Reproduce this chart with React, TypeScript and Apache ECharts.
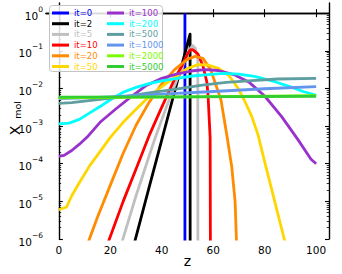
import React, { useEffect, useRef } from 'react';
import * as echarts from 'echarts';

const seriesNames = ['it=0', 'it=2', 'it=5', 'it=10', 'it=20', 'it=50', 'it=100', 'it=200', 'it=500', 'it=1000', 'it=2000', 'it=5000'];
const seriesColors = ['#0000ff', '#000000', '#c0c0c0', '#ff0000', '#ff8c00', '#ffd700', '#9932cc', '#00ffff', '#5f9ea0', '#6495ed', '#7cfc00', '#32cd32'];

// z positions and mole fractions for each iteration
const zIt0 = [49, 49];
const xIt0 = [1e-9, 1.0];

const zIt2 = [28, 35, 40, 45, 49, 50, 51, 51.05];
const xIt2 = [3.5e-7, 2.24e-5, 4.3e-4, 8.3e-3, 8.5e-2, 0.155, 0.278, 1e-9];

const zIt5 = [24, 30, 37, 42, 46, 49, 51, 52, 53, 54, 54.05];
const xIt5 = [6.3e-7, 1.41e-5, 4.0e-4, 3.5e-3, 1.78e-2, 5.6e-2, 0.112, 0.138, 0.117, 6.3e-2, 1e-9];

const zIt10 = [18, 20, 25, 30, 35, 40, 45, 48, 50, 51, 52, 54, 56, 57.5, 58, 58.8, 59];
const xIt10 = [5.0e-7, 1.17e-6, 1.0e-5, 7.2e-5, 5.4e-4, 3.2e-3, 1.78e-2, 4.2e-2, 8.3e-2, 0.105, 0.107, 8.3e-2, 4.0e-2, 1.51e-2, 6.3e-3, 5.0e-4, 1e-9];

const zIt20 = [10, 15, 20, 25, 30, 35, 40, 45, 50, 53, 56, 59, 61.5, 63, 65.4, 67.2, 68.5, 69, 69.05];
const xIt20 = [4.5e-7, 3.8e-6, 2.7e-5, 1.9e-4, 1.05e-3, 4.2e-3, 1.32e-2, 3.16e-2, 6.0e-2, 7.1e-2, 6.3e-2, 3.16e-2, 1.0e-2, 5.0e-3, 5.1e-4, 8.3e-5, 1.0e-5, 1.0e-6, 1e-9];

const zIt50 = [0, 3, 5, 8, 12, 16.5, 20, 25, 30, 35, 40, 46, 50, 54, 58, 62, 66, 69.5, 72, 75, 77.5, 80, 82.5, 85, 87.6, 89];
const xIt50 = [6.0e-6, 7.1e-6, 1.41e-5, 3.16e-5, 8.9e-5, 2.34e-4, 5.0e-4, 1.26e-3, 2.8e-3, 6.0e-3, 1.12e-2, 2.24e-2, 3.4e-2, 4.3e-2, 4.2e-2, 3.4e-2, 2.24e-2, 1.05e-2, 5.0e-3, 1.78e-3, 5.6e-4, 1.12e-4, 2.4e-5, 5.0e-6, 1.0e-6, 4.0e-7];

const zIt100 = [0, 2, 5, 8, 11, 16, 22, 28, 34, 40, 46, 52, 57, 62, 68, 74, 80, 86.6, 93, 98, 100];
const xIt100 = [1.58e-4, 1.66e-4, 2.24e-4, 3.3e-4, 5.1e-4, 1.26e-3, 2.8e-3, 6.0e-3, 1.2e-2, 1.86e-2, 2.45e-2, 2.95e-2, 3.16e-2, 3.0e-2, 2.34e-2, 1.45e-2, 6.3e-3, 1.78e-3, 4.3e-4, 1.32e-4, 1.0e-4];

const zIt200 = [0, 4, 8, 12, 16, 20, 25, 30, 35, 40, 46, 52, 58, 64, 70, 76, 84, 90, 95, 100];
const xIt200 = [1.15e-3, 1.2e-3, 1.51e-3, 2.24e-3, 3.3e-3, 5.0e-3, 7.9e-3, 1.07e-2, 1.35e-2, 1.58e-2, 1.86e-2, 2.14e-2, 2.34e-2, 2.5e-2, 2.4e-2, 2.1e-2, 1.51e-2, 1.1e-2, 8.3e-3, 6.6e-3];

const zIt500 = [0, 5, 10, 16, 25, 35, 45, 55, 65, 75, 85, 100];
const xIt500 = [4.0e-3, 4.2e-3, 4.6e-3, 5.1e-3, 6.0e-3, 7.6e-3, 9.5e-3, 1.2e-2, 1.45e-2, 1.62e-2, 1.78e-2, 1.86e-2];

const zIt1000 = [0, 10, 20, 40, 60, 80, 100];
const xIt1000 = [5.4e-3, 5.6e-3, 6.0e-3, 7.1e-3, 8.3e-3, 9.8e-3, 1.12e-2];

const zIt2000 = [0, 50, 100];
const xIt2000 = [5.6e-3, 6.0e-3, 6.45e-3];

const zIt5000 = [0, 50, 100];
const xIt5000 = [5.9e-3, 6.0e-3, 6.2e-3];

const zValues = [zIt0, zIt2, zIt5, zIt10, zIt20, zIt50, zIt100, zIt200, zIt500, zIt1000, zIt2000, zIt5000];
const xValues = [xIt0, xIt2, xIt5, xIt10, xIt20, xIt50, xIt100, xIt200, xIt500, xIt1000, xIt2000, xIt5000];

const xTicks = [0, 20, 40, 60, 80, 100];
const yDecades = [-6, -5, -4, -3, -2, -1, 0];

const FONT = 'DejaVu Sans';

export default function App() {
  const ref = useRef<HTMLDivElement>(null);

  useEffect(() => {
    if (!ref.current) return;
    const chart = echarts.init(ref.current, undefined, { renderer: 'svg' });

    const yMin = -6;
    const yMax = 0.27;
    const minorY: number[] = [];
    for (let d = -6; d <= 0; d++) {
      for (let k = 2; k <= 9; k++) {
        const v = d + Math.log10(k);
        if (v < yMax) minorY.push(v);
      }
    }

    const axisLine = { show: true, lineStyle: { color: '#000', width: 1.4 } };
    const majorTick = (vals: number[]) => ({ show: true, inside: true, length: 4, customValues: vals, lineStyle: { color: '#000', width: 1.1 } });
    const minorTick = (vals: number[]) => ({ show: true, inside: true, length: 2.3, customValues: vals, lineStyle: { color: '#000', width: 0.8 } });

    const series = seriesNames.map((name, i) => ({
      name,
      type: 'line',
      xAxisIndex: 0,
      yAxisIndex: 0,
      showSymbol: false,
      symbol: 'none',
      clip: true,
      z: 2,
      color: seriesColors[i],
      itemStyle: { color: seriesColors[i] },
      lineStyle: { color: seriesColors[i], width: 2.8, join: 'round' },
      data: zValues[i].map((z, j) => [z, Math.log10(xValues[i][j])]),
    }));

    const legendBase = {
      orient: 'vertical',
      itemGap: 1.7,
      itemWidth: 17,
      itemHeight: 3,
      icon: 'rect',
      selectedMode: false,
      top: 8.5,
      padding: 0,
      z: 6,
      textStyle: { fontSize: 8.5, fontFamily: FONT, lineHeight: 9 },
    };

    chart.setOption({
      animation: false,
      backgroundColor: '#fff',
      grid: { left: 46, right: 13, top: 3, bottom: 35 },
      xAxis: [
        {
          type: 'value', min: -5, max: 105, position: 'bottom',
          axisLine, axisTick: majorTick(xTicks),
          axisLabel: { customValues: xTicks, margin: 5, fontSize: 10.5, color: '#000', fontFamily: FONT },
          splitLine: { show: false },
        },
        {
          type: 'value', min: -5, max: 105, position: 'top',
          axisLine, axisTick: majorTick(xTicks),
          axisLabel: { show: false }, splitLine: { show: false },
        },
      ],
      yAxis: [
        {
          type: 'value', min: yMin, max: yMax, position: 'left',
          axisLine, axisTick: majorTick(yDecades),
          axisLabel: {
            customValues: yDecades, margin: 3, color: '#000', fontFamily: FONT,
            formatter: (v: number) => `{b|10}{s|${v < 0 ? '\u2212' : ''}${Math.abs(Math.round(v))}}`,
            rich: {
              b: { fontSize: 10.5, fontFamily: FONT, color: '#000', verticalAlign: 'bottom', lineHeight: 16 },
              s: { fontSize: 7.5, fontFamily: FONT, color: '#000', verticalAlign: 'top', lineHeight: 6 },
            },
          },
          splitLine: { show: false },
        },
        {
          type: 'value', min: yMin, max: yMax, position: 'left',
          axisLine: { show: false }, axisTick: minorTick(minorY),
          axisLabel: { show: false }, splitLine: { show: false },
        },
        {
          type: 'value', min: yMin, max: yMax, position: 'right',
          axisLine, axisTick: majorTick(yDecades),
          axisLabel: { show: false }, splitLine: { show: false },
        },
        {
          type: 'value', min: yMin, max: yMax, position: 'right',
          axisLine: { show: false }, axisTick: minorTick(minorY),
          axisLabel: { show: false }, splitLine: { show: false },
        },
      ],
      legend: [
        {
          ...legendBase,
          left: 52,
          data: seriesNames.slice(0, 6).map((n, i) => ({ name: n, textStyle: { color: seriesColors[i] } })),
        },
        {
          ...legendBase,
          left: 107,
          data: seriesNames.slice(6).map((n, i) => ({ name: n, textStyle: { color: seriesColors[i + 6] } })),
        },
      ],
      graphic: {
        elements: [
          {
            type: 'rect', z: 5, silent: true,
            left: 49, top: 5,
            shape: { width: 113, height: 66, r: 3 },
            style: { fill: 'rgba(255,255,255,0.85)', stroke: '#c4c4c4', lineWidth: 1 },
          },
          {
            type: 'text', x: 187.5, y: 260.5,
            style: { text: 'z', fontSize: 14, fontFamily: FONT, fill: '#000', align: 'center', verticalAlign: 'middle' },
          },
          {
            type: 'text', x: 15, y: 130.5, rotation: Math.PI / 2,
            style: { text: 'X', fontSize: 14, fontFamily: FONT, fill: '#000', align: 'center', verticalAlign: 'middle' },
          },
          {
            type: 'text', x: 17.4, y: 110, rotation: Math.PI / 2,
            style: { text: 'mol', fontSize: 9.5, fontFamily: FONT, fill: '#000', align: 'center', verticalAlign: 'middle' },
          },
        ],
      },
      series,
    });

    return () => chart.dispose();
  }, []);

  return (
    <div
      ref={ref}
      style={{ position: 'fixed', left: 0, top: 0, width: 342, height: 274, background: '#fff' }}
    />
  );
}
